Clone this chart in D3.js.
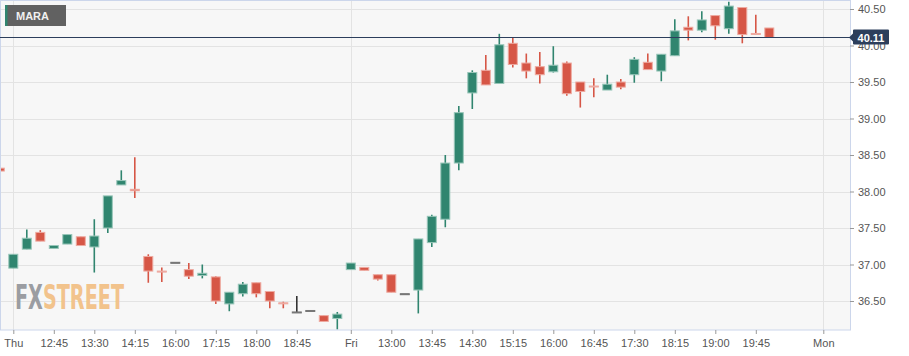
<!DOCTYPE html>
<html>
<head>
<meta charset="utf-8">
<script src="https://cdn.jsdelivr.net/npm/d3@7"></script>
<style>
  body { margin: 0; background: #fff; }
  svg { display: block; font-family: "Liberation Sans", Arial, sans-serif; }
</style>
</head>
<body>
<svg width="909" height="356"></svg>
<script>
// candle data, index -1 .. 56 (15 min bars, gaps removed)
var startIndex = -1;
var opens  = [38.32, 36.95, 37.21, 37.44, 37.22, 37.28, 37.38, 37.24, 37.50, 38.09, 38.03,
              37.11, 36.91, 37.03, 36.93, 36.85, 36.83, 36.46, 36.60, 36.75, 36.63,
              36.475, 36.35, 36.37, 36.30, 36.26, 36.93, 36.96, 36.86, 36.86, 36.60,
              36.65, 37.30, 37.62, 38.39, 39.35, 39.66, 39.48, 40.03, 39.76, 39.71,
              39.64, 39.76, 39.50, 39.445, 39.39, 39.50, 39.60, 39.77, 39.65, 39.86,
              40.25, 40.21, 40.41, 40.23, 40.52, 40.165, 40.24];
var highs  = [38.35, 37.14, 37.48, 37.47, 37.26, 37.41, 37.38, 37.62, 37.94, 38.29, 38.47,
              37.14, 36.96, 37.03, 37.02, 37.00, 36.84, 36.62, 36.76, 36.75, 36.63,
              36.49, 36.57, 36.37, 36.30, 36.35, 37.02, 36.96, 36.86, 36.86, 36.60,
              37.35, 37.68, 38.50, 39.17, 39.66, 39.87, 40.16, 40.11, 39.89, 39.91,
              39.99, 39.78, 39.50, 39.55, 39.60, 39.54, 39.84, 39.89, 39.88, 40.36,
              40.40, 40.47, 40.41, 40.60, 40.52, 40.42, 40.24];
var lows   = [38.16, 36.95, 37.21, 37.32, 37.22, 37.28, 37.26, 36.89, 37.43, 38.09, 37.91,
              36.75, 36.76, 37.03, 36.80, 36.81, 36.46, 36.36, 36.56, 36.55, 36.40,
              36.40, 36.35, 36.37, 36.22, 36.11, 36.93, 36.92, 36.78, 36.62, 36.60,
              36.33, 37.24, 37.51, 38.29, 39.13, 39.46, 39.48, 39.70, 39.55, 39.48,
              39.63, 39.31, 39.15, 39.29, 39.39, 39.40, 39.49, 39.67, 39.51, 39.86,
              40.07, 40.18, 40.08, 40.16, 40.03, 40.155, 40.11];
var closes = [38.28, 37.14, 37.36, 37.32, 37.26, 37.41, 37.26, 37.39, 37.94, 38.15, 38.01,
              36.91, 36.90, 37.03, 36.84, 36.88, 36.50, 36.62, 36.73, 36.60, 36.50,
              36.465, 36.35, 36.37, 36.22, 36.32, 37.02, 36.92, 36.80, 36.62, 36.60,
              37.35, 37.66, 38.39, 39.08, 39.63, 39.46, 40.01, 39.74, 39.65, 39.60,
              39.73, 39.34, 39.37, 39.435, 39.47, 39.43, 39.81, 39.67, 39.88, 40.20,
              40.21, 40.35, 40.27, 40.54, 40.15, 40.155, 40.11];

var tickIndex  = [0, 3, 6, 9, 12, 15, 18, 21, 25, 28, 31, 34, 37, 40, 43, 46, 49, 52, 55, 60];
var tickLabels = ["Thu", "12:45", "13:30", "14:15", "16:00", "17:15", "18:00", "18:45", "Fri",
                  "13:00", "13:45", "14:30", "15:15", "16:00", "16:45", "17:30", "18:15",
                  "19:00", "19:45", "Mon"];
var dayIndex = [0, 25, 60];
var priceTicks = [36.5, 37, 37.5, 38, 38.5, 39, 39.5, 40, 40.5];
var symbol = "MARA";
var lastPrice = 40.11;

var svg = d3.select("svg"),
    plotW = 850,
    plotH = 330;

var colorUp = "#30856f", colorUpLight = "#98c6b9";
var colorDown = "#d65646", colorDownLight = "#eeaaa1";
var colorFlat = "#333";

var x = d3.scaleLinear().domain([0, 60]).range([13.3, 823.3]);
var y = d3.scaleLinear().domain([36.5, 40.5]).range([301, 9]);

var candles = opens.map((o, i) => ({
    i: i + startIndex, o: o, h: highs[i], l: lows[i], c: closes[i]
}));

svg.append("defs").append("clipPath").attr("id", "plot-clip")
    .append("rect").attr("width", plotW).attr("height", plotH);

svg.append("rect")
    .attr("width", plotW).attr("height", plotH)
    .attr("fill", "#f7f7f7");

// grid
var grid = svg.append("g").attr("stroke", "#e3e3e3").attr("stroke-width", 1);
grid.selectAll("line.h").data(priceTicks).join("line")
    .attr("class", "h")
    .attr("x1", 0).attr("x2", plotW)
    .attr("y1", d => Math.round(y(d)) + 0.5).attr("y2", d => Math.round(y(d)) + 0.5);
grid.selectAll("line.v").data(dayIndex).join("line")
    .attr("class", "v")
    .attr("y1", 0).attr("y2", plotH)
    .attr("x1", d => Math.round(x(d)) + 0.5).attr("x2", d => Math.round(x(d)) + 0.5);

// watermark
var wm = svg.append("text")
    .attr("x", 15).attr("y", 309)
    .attr("font-family", "'DejaVu Sans Condensed', 'DejaVu Sans', sans-serif")
    .attr("font-weight", "bold")
    .attr("font-size", 34)
    .attr("textLength", 109)
    .attr("lengthAdjust", "spacingAndGlyphs");
wm.append("tspan").attr("fill", "#9b9da2").text("FX");
wm.append("tspan").attr("fill", "#f2c38c").text("STREET");

// candles
var cg = svg.append("g").attr("clip-path", "url(#plot-clip)");
function mainColor(d) { return d.c > d.o ? colorUp : d.c < d.o ? colorDown : colorFlat; }
function lightColor(d) { return d.c > d.o ? colorUpLight : d.c < d.o ? colorDownLight : "#777"; }

cg.selectAll("line.wick").data(candles).join("line")
    .attr("class", "wick")
    .attr("x1", d => x(d.i)).attr("x2", d => x(d.i))
    .attr("y1", d => y(d.h)).attr("y2", d => y(d.l))
    .attr("stroke", mainColor)
    .attr("stroke-width", 1.6);

cg.selectAll("rect.body").data(candles).join("rect")
    .attr("class", "body")
    .attr("x", d => x(d.i) - 4.5)
    .attr("width", 9)
    .attr("y", d => y(Math.max(d.o, d.c)))
    .attr("height", d => Math.max(1, Math.abs(y(d.o) - y(d.c))))
    .attr("fill", mainColor)
    .attr("stroke", lightColor)
    .attr("stroke-width", 1);

// frame
svg.append("rect")
    .attr("x", 0.5).attr("y", 0.5)
    .attr("width", plotW).attr("height", plotH - 0.5)
    .attr("fill", "none")
    .attr("stroke", "#ccd6eb");

// axes
var yAxis = svg.append("g")
    .attr("transform", `translate(${plotW},0)`)
    .call(d3.axisRight(y).tickValues(priceTicks).tickFormat(d3.format(".2f")).tickSize(4).tickPadding(4));
yAxis.select(".domain").remove();
yAxis.selectAll("line").attr("stroke", "#999");
yAxis.selectAll("text").attr("fill", "#555").attr("font-size", 11)
    .attr("font-family", "'Liberation Sans', Arial, sans-serif");

var xAxis = svg.append("g")
    .attr("transform", `translate(0,${plotH})`)
    .call(d3.axisBottom(x).tickValues(tickIndex)
        .tickFormat((d, k) => tickLabels[k]).tickSize(4).tickPadding(5));
xAxis.select(".domain").remove();
xAxis.selectAll("line").attr("stroke", "#999");
xAxis.selectAll("text").attr("fill", "#555").attr("font-size", 11)
    .attr("font-family", "'Liberation Sans', Arial, sans-serif");

// current price line + label
var py = Math.round(y(lastPrice)) + 0.5;
svg.append("line")
    .attr("x1", 0).attr("x2", plotW)
    .attr("y1", py).attr("y2", py)
    .attr("stroke", "#2c3e5c").attr("stroke-width", 1);

svg.append("path")
    .attr("d", `M849,${py} L853,${py - 4} L853,${py - 7} Q853,${py - 8} 854,${py - 8} L888,${py - 8} Q889,${py - 8} 889,${py - 7} L889,${py + 6} Q889,${py + 7} 888,${py + 7} L854,${py + 7} Q853,${py + 7} 853,${py + 6} L853,${py + 4} Z`)
    .attr("fill", "#2c3e5c");
svg.append("text")
    .attr("x", 871).attr("y", py + 4)
    .attr("text-anchor", "middle")
    .attr("fill", "#fff")
    .attr("font-weight", "bold")
    .attr("font-size", 11)
    .text(d3.format(".2f")(lastPrice));

// symbol label
var lab = svg.append("g");
lab.append("rect")
    .attr("x", 5).attr("y", 5).attr("width", 61).attr("height", 21)
    .attr("fill", "#616161");
lab.append("rect")
    .attr("x", 5).attr("y", 5).attr("width", 2.5).attr("height", 21)
    .attr("fill", colorUp);
lab.append("text")
    .attr("x", 16).attr("y", 20)
    .attr("fill", "#f0f0f0")
    .attr("font-weight", "bold")
    .attr("font-size", 11)
    .text(symbol);
</script>
</body>
</html>
